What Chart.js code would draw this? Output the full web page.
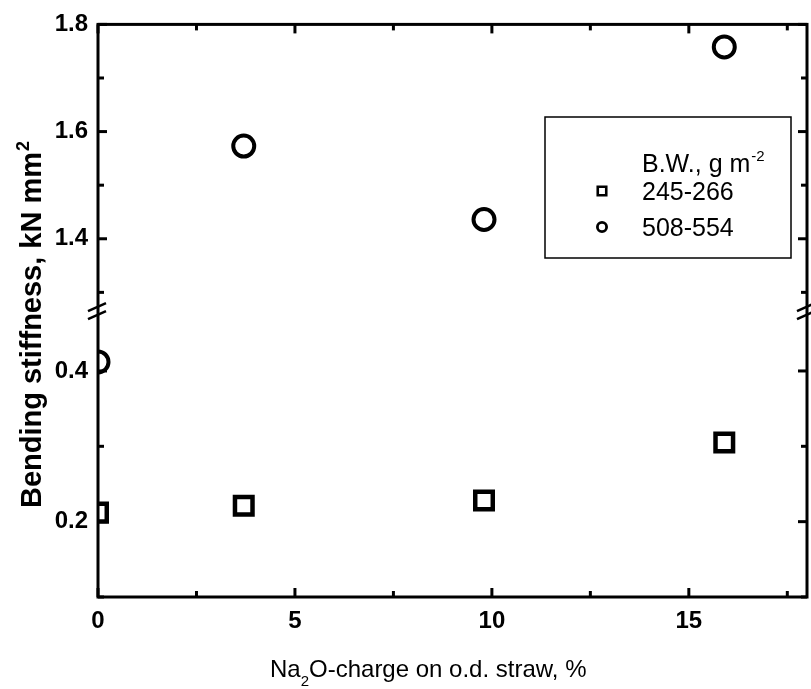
<!DOCTYPE html>
<html>
<head>
<meta charset="utf-8">
<script src="https://cdn.jsdelivr.net/npm/chart.js@4.4.1/dist/chart.umd.min.js"></script>
<style>
html, body { margin: 0; padding: 0; background: #fff; overflow: hidden; }
#wrap { width: 811px; height: 689px; }
canvas { display: block; }
</style>
</head>
<body>
<div id="wrap"><canvas id="stiffnessChart"></canvas></div>
<script>
// Na2O-charge on o.d. straw, %
const naCharge = [0, 3.7, 9.8, 15.9];
// bending stiffness, kN mm2, per basis weight range
const bw245 = [0.212, 0.221, 0.228, 0.305];
const bw508 = [0.412, 1.573, 1.436, 1.758];
const seriesLabels = ['245-266', '508-554'];

const xTicks = [0, 5, 10, 15];
const yLowTicks = [0.2, 0.4];
const yHighTicks = [1.4, 1.6, 1.8];
const xRange = [0, 18];
const yLowRange = [0.1, 0.478];
const yHighRange = [1.263, 1.8];

const FONT = "'Liberation Sans', Arial, sans-serif";

// pick the points that fall in one part of the broken axis
const toPoints = (ys, range) => naCharge
    .map((x, i) => ({ x: x, y: ys[i] }))
    .filter(p => p.y >= range[0] && p.y <= range[1]);

const squareStyle = { pointStyle: 'rect', pointRadius: 12.4, borderWidth: 4.5 };
const circleStyle = { pointStyle: 'circle', pointRadius: 10.5, borderWidth: 4 };

const makeSet = (label, ys, range, axis, style) => ({
    label: label,
    data: toPoints(ys, range),
    yAxisID: axis,
    showLine: false,
    borderColor: '#000',
    backgroundColor: '#fff',
    pointStyle: style.pointStyle,
    pointRadius: style.pointRadius,
    pointBorderWidth: style.borderWidth,
    clip: 0
});

// frame, inward ticks, axis breaks
const framePlugin = {
    id: 'frame',
    afterDatasetsDraw(chart) {
        const { ctx, chartArea: a, scales } = chart;
        const xs = scales.x;
        ctx.save();
        ctx.strokeStyle = '#000';
        ctx.lineWidth = 3;
        ctx.strokeRect(a.left, a.top, a.right - a.left, a.bottom - a.top);

        const line = (x1, y1, x2, y2) => {
            ctx.beginPath();
            ctx.moveTo(x1, y1);
            ctx.lineTo(x2, y2);
            ctx.stroke();
        };

        // x ticks, bottom and top
        for (let k = Math.ceil(xs.min / 2.5); k * 2.5 <= xs.max; k++) {
            const px = xs.getPixelForValue(k * 2.5);
            const len = k % 2 === 0 ? 9 : 6;
            line(px, a.bottom, px, a.bottom - len);
            line(px, a.top, px, a.top + len);
        }
        // y ticks, left and right, for both parts
        [scales.yLow, scales.yHigh].forEach(s => {
            for (let k = Math.ceil(s.min * 10 - 1e-6); k <= Math.floor(s.max * 10 + 1e-6); k++) {
                const py = s.getPixelForValue(k / 10);
                const len = k % 2 === 0 ? 9 : 6;
                line(a.left, py, a.left + len, py);
                line(a.right, py, a.right - len, py);
            }
        });

        // break marks
        const yb = scales.yHigh.bottom;
        ctx.lineWidth = 2.5;
        [a.left, a.right].forEach(ax => {
            line(ax - 10, yb - 1, ax + 8, yb - 9);
            line(ax - 10, yb + 7, ax + 8, yb - 1);
        });
        ctx.restore();
    }
};

// legend box and axis titles with sub/superscripts
const textPlugin = {
    id: 'texts',
    afterDraw(chart) {
        const ctx = chart.ctx;
        ctx.save();
        ctx.fillStyle = '#000';
        ctx.textBaseline = 'alphabetic';
        ctx.textAlign = 'left';

        // legend
        ctx.strokeStyle = '#000';
        ctx.lineWidth = 1.5;
        ctx.strokeRect(545, 117, 246, 141);
        ctx.font = '25px ' + FONT;
        ctx.fillText('B.W., g m', 642, 172);
        let w = ctx.measureText('B.W., g m').width;
        ctx.font = '15px ' + FONT;
        ctx.fillText('-2', 642 + w + 1, 161);

        const rows = [
            { label: seriesLabels[0], style: { pointStyle: 'rect', radius: 6, borderWidth: 2.6 } },
            { label: seriesLabels[1], style: { pointStyle: 'circle', radius: 4.6, borderWidth: 2.8 } }
        ];
        rows.forEach((r, i) => {
            const cy = 191 + i * 36;
            ctx.strokeStyle = '#000';
            ctx.fillStyle = '#fff';
            ctx.lineWidth = r.style.borderWidth;
            Chart.helpers.drawPoint(ctx, r.style, 602, cy);
            ctx.fillStyle = '#000';
            ctx.font = '25px ' + FONT;
            ctx.fillText(r.label, 642, cy + 9);
        });

        // x title
        ctx.font = '24px ' + FONT;
        let x = 270;
        ctx.fillText('Na', x, 677);
        x += ctx.measureText('Na').width;
        ctx.font = '15px ' + FONT;
        ctx.fillText('2', x, 686);
        x += ctx.measureText('2').width;
        ctx.font = '24px ' + FONT;
        ctx.fillText('O-charge on o.d. straw, %', x, 677);

        // y title, rotated
        const main = 'Bending stiffness, kN mm';
        ctx.font = 'bold 29px ' + FONT;
        const mw = ctx.measureText(main).width;
        ctx.font = 'bold 18px ' + FONT;
        const sw = ctx.measureText('2').width;
        const total = mw + sw;
        ctx.translate(41, 325);
        ctx.rotate(-Math.PI / 2);
        ctx.font = 'bold 29px ' + FONT;
        ctx.fillText(main, -total / 2, 0);
        ctx.font = 'bold 18px ' + FONT;
        ctx.fillText('2', -total / 2 + mw + 1, -12);
        ctx.restore();
    }
};

const yAxis = (range, ticks, weight) => ({
    type: 'linear',
    position: 'left',
    stack: 'y',
    stackWeight: weight,
    min: range[0],
    max: range[1],
    afterBuildTicks: s => { s.ticks = ticks.map(v => ({ value: v })); },
    afterFit: s => { s.width = 98; },
    grid: { display: false, drawTicks: false },
    border: { display: false },
    ticks: {
        color: '#000',
        padding: 10,
        font: { family: FONT, size: 24, weight: 'bold' },
        callback: v => Number(v).toFixed(1)
    }
});

const ctx = document.getElementById('stiffnessChart').getContext('2d');
new Chart(ctx, {
    type: 'scatter',
    data: {
        datasets: [
            makeSet(seriesLabels[0], bw245, yLowRange, 'yLow', squareStyle),
            makeSet(seriesLabels[1], bw508, yLowRange, 'yLow', circleStyle),
            makeSet(seriesLabels[0], bw245, yHighRange, 'yHigh', squareStyle),
            makeSet(seriesLabels[1], bw508, yHighRange, 'yHigh', circleStyle)
        ]
    },
    options: {
        responsive: true,
        maintainAspectRatio: false,
        animation: false,
        events: [],
        layout: {
            autoPadding: false,
            padding: { top: 20, right: 4, left: 0, bottom: 0 }
        },
        plugins: {
            legend: { display: false },
            tooltip: { enabled: false }
        },
        scales: {
            x: {
                type: 'linear',
                min: xRange[0],
                max: xRange[1],
                afterBuildTicks: s => { s.ticks = xTicks.map(v => ({ value: v })); },
                afterFit: s => {
                    s.height = 92;
                    s.paddingLeft = 0;
                    s.paddingRight = 0;
                },
                grid: { display: false, drawTicks: false },
                border: { display: false },
                ticks: {
                    color: '#000',
                    padding: 10,
                    maxRotation: 0,
                    font: { family: FONT, size: 24, weight: 'bold' }
                }
            },
            yLow: yAxis(yLowRange, yLowTicks, 287),
            yHigh: yAxis(yHighRange, yHighTicks, 290)
        }
    },
    plugins: [framePlugin, textPlugin]
});
</script>
</body>
</html>
